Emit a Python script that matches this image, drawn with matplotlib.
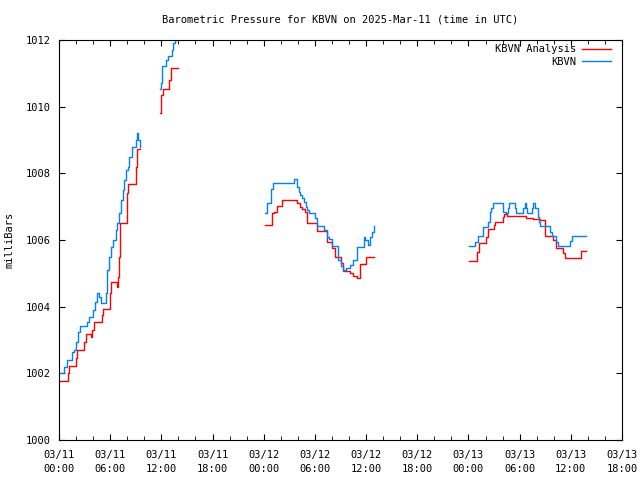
import numpy as np
import matplotlib
matplotlib.use('Agg')
import matplotlib.pyplot as plt

# hours since 2025-03-11 00:00 UTC, pressure in mb (step change points)
blue_t1 = [0.0, 0.62, 0.9, 1.48, 1.7, 1.95, 2.27, 2.46, 3.24, 3.55, 4.03, 4.22, 4.49, 4.7, 4.88, 5.27, 5.47, 5.66, 5.86,
           6.1, 6.37, 6.64, 6.84, 7.03, 7.23, 7.46, 7.66, 7.89, 8.13, 8.24, 8.52, 8.99, 9.18, 9.3, 9.53]
blue_p1 = [1002.02, 1002.2, 1002.4, 1002.65, 1002.7, 1002.95, 1003.25, 1003.42, 1003.55, 1003.7, 1003.9, 1004.15, 1004.4, 1004.3, 1004.1, 1004.1, 1004.4, 1005.1, 1005.5,
           1005.8, 1006.0, 1006.3, 1006.5, 1006.8, 1007.2, 1007.5, 1007.8, 1008.1, 1008.2, 1008.5, 1008.8, 1009.0, 1009.2, 1009.0, 1008.8]
blue_t2 = [11.88, 11.95, 12.03, 12.54, 12.74, 13.21, 13.4, 13.6, 13.95]
blue_p2 = [1010.52, 1010.7, 1011.22, 1011.4, 1011.52, 1011.7, 1011.9, 1012.0, 1012.0]
blue_t3 = [24.15, 24.35, 24.8, 24.9, 25.1, 27.6, 27.9, 28.1, 28.3, 28.5, 28.7, 28.9, 29.1, 29.3, 30.0, 30.2, 31.1, 31.4, 31.6, 32.0, 32.7, 33.1, 33.3,
           33.7, 34.1, 34.5, 34.9, 35.3, 35.7, 35.9, 36.2, 36.5, 36.7, 36.9]
blue_p3 = [1006.82, 1007.1, 1007.4, 1007.52, 1007.7, 1007.82, 1007.6, 1007.45, 1007.35, 1007.25, 1007.15, 1007.0, 1006.9, 1006.8, 1006.65, 1006.42, 1006.3, 1006.1, 1006.02, 1005.82, 1005.4, 1005.22, 1005.1,
           1005.15, 1005.25, 1005.4, 1005.78, 1005.8, 1006.08, 1006.0, 1005.85, 1006.08, 1006.25, 1006.42]
blue_t4 = [48.1, 48.8, 49.1, 49.7, 50.3, 50.5, 50.7, 50.9, 51.9, 52.1, 52.4, 52.6, 52.8, 53.2, 53.4, 53.6, 54.2, 54.4, 54.6, 54.8, 54.9, 55.3, 55.5, 55.6, 55.8,
           56.1, 56.3, 56.4, 57.4, 57.6, 57.8, 58.1, 58.3, 58.5, 59.7, 59.9, 60.1, 61.8]
blue_p4 = [1005.82, 1005.95, 1006.12, 1006.4, 1006.55, 1006.85, 1006.95, 1007.1, 1007.1, 1006.85, 1006.8, 1006.95, 1007.1, 1007.1, 1006.95, 1006.8, 1006.8, 1006.95, 1007.1, 1006.95, 1006.8, 1006.8, 1006.95, 1007.1, 1006.95,
           1006.7, 1006.55, 1006.42, 1006.42, 1006.25, 1006.12, 1006.12, 1005.95, 1005.82, 1005.82, 1005.98, 1006.12, 1006.12]

red_t1 = [0.0, 1.1, 1.2, 1.95, 2.15, 2.97, 3.16, 3.7, 3.9, 4.14, 5.0, 5.2, 5.98, 6.1, 6.6, 6.76, 6.9, 7.03, 7.15, 8.0, 8.13, 8.99, 9.14, 9.53]
red_p1 = [1001.78, 1002.0, 1002.22, 1002.45, 1002.7, 1002.95, 1003.17, 1003.1, 1003.3, 1003.55, 1003.75, 1003.92, 1004.4, 1004.75, 1004.75, 1004.6, 1004.9, 1005.5, 1006.5, 1007.4, 1007.68, 1008.2, 1008.72, 1008.72]
red_t2 = [11.88, 12.0, 12.15, 12.94, 13.09, 13.91]
red_p2 = [1009.82, 1010.35, 1010.52, 1010.8, 1011.15, 1011.15]
red_t3 = [24.15, 25.0, 25.2, 25.6, 26.1, 27.7, 27.9, 28.2, 28.5, 28.8, 29.05, 30.0, 30.3, 31.4, 32.0, 32.3, 33.1, 33.3, 34.1, 34.5, 34.9, 35.3, 36.0, 36.9]
red_p3 = [1006.44, 1006.82, 1006.85, 1007.02, 1007.19, 1007.19, 1007.12, 1007.0, 1006.92, 1006.85, 1006.52, 1006.5, 1006.28, 1005.95, 1005.75, 1005.48, 1005.3, 1005.07, 1005.0, 1004.92, 1004.85, 1005.28, 1005.5, 1005.5]
red_t4 = [48.1, 49.0, 49.2, 50.1, 50.3, 51.0, 51.1, 52.0, 52.2, 52.4, 52.5, 54.7, 55.6, 56.4, 57.0, 57.9, 58.3, 59.1, 59.3, 61.2, 61.8]
red_p4 = [1005.37, 1005.65, 1005.9, 1006.1, 1006.32, 1006.45, 1006.53, 1006.7, 1006.78, 1006.8, 1006.72, 1006.65, 1006.62, 1006.6, 1006.12, 1006.0, 1005.75, 1005.6, 1005.47, 1005.68, 1005.68]

tick_hours = list(range(0, 67, 6))
tick_labels = ['03/11\n00:00', '03/11\n06:00', '03/11\n12:00', '03/11\n18:00',
               '03/12\n00:00', '03/12\n06:00', '03/12\n12:00', '03/12\n18:00',
               '03/13\n00:00', '03/13\n06:00', '03/13\n12:00', '03/13\n18:00']

plt.rcParams['font.family'] = 'DejaVu Sans Mono'
plt.rcParams['font.size'] = 7.5

fig = plt.figure(figsize=(6.4, 4.8), dpi=100)
ax = fig.add_axes([59/640, 40/480, 563/640, 400/480])

red = '#ff0000'
blue = '#0080ff'
segs = [(red_t1, red_p1), (red_t2, red_p2), (red_t3, red_p3), (red_t4, red_p4)]
for i, (t, p) in enumerate(segs):
    ax.plot(t, p, color=red, lw=1, drawstyle='steps-post', label='KBVN Analysis' if i == 0 else None)
segs = [(blue_t1, blue_p1), (blue_t2, blue_p2), (blue_t3, blue_p3), (blue_t4, blue_p4)]
for i, (t, p) in enumerate(segs):
    ax.plot(t, p, color=blue, lw=1, drawstyle='steps-post', label='KBVN' if i == 0 else None)

ax.set_xlim(0, 66)
ax.set_ylim(1000, 1012)
ax.set_xticks(tick_hours)
ax.set_xticklabels(tick_labels, linespacing=1.45)
ax.set_xticks(range(0, 67, 2), minor=True)
ax.set_yticks(range(1000, 1013, 2))
ax.tick_params(direction='in', length=4, top=True, right=True, which='both')
ax.tick_params(axis='x', which='both', pad=7.5)
ax.tick_params(axis='y', which='both', pad=6)
ax.tick_params(which='minor', length=3)
ax.set_ylabel('milliBars', labelpad=8)
ax.set_title('Barometric Pressure for KBVN on 2025-Mar-11 (time in UTC)', pad=12.5, fontsize=7.5)
leg = ax.legend(loc='upper right', bbox_to_anchor=(1.0, 1.018), markerfirst=False, frameon=False,
                handlelength=2.7, borderaxespad=0.7, labelspacing=0.25, handletextpad=0.6)
for txt in leg.get_texts():
    txt.set_ha('right')

fig.savefig('out.png', dpi=100)
